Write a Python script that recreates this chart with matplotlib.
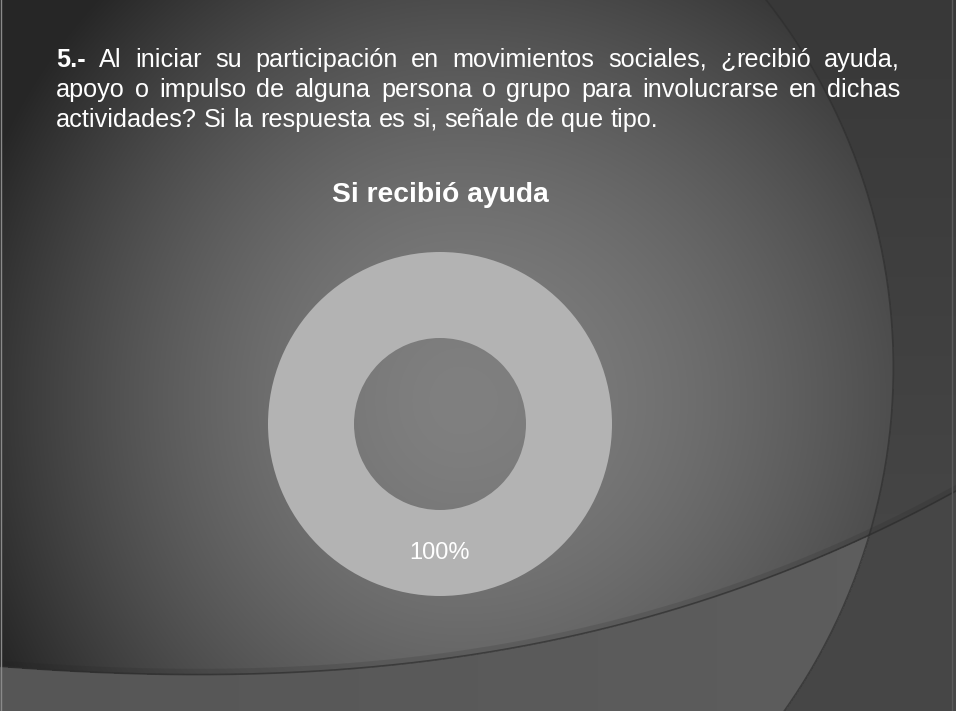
import numpy as np
import matplotlib
matplotlib.use('Agg')
import matplotlib.pyplot as plt

# datos del grafico
categorias = ['Si recibió ayuda']
valores = [1]
titulo_grafico = 'Si recibió ayuda'
pregunta_num = '5.-'
pregunta_lineas = [
    'Al iniciar su participación en movimientos sociales, ¿recibió ayuda,',
    'apoyo o impulso de alguna persona o grupo para involucrarse en dichas',
    'actividades? Si la respuesta es si, señale de que tipo.',
]

# geometria del fondo (decoracion de la diapositiva)
arco1_x = np.array([767, 880, 885, 874, 783])
arco1_y = np.array([0, 250, 460, 530, 711])
arco2_x = np.array([0, 160, 333, 476, 676, 873, 956])
arco2_y = np.array([667, 673, 670, 655, 610, 530, 493])

W, H = 956, 711
fuente = 'Liberation Sans'


def ajustar_circulo(x, y):
    A = np.column_stack([x, y, np.ones_like(x)])
    b = -(x ** 2 + y ** 2)
    D, E, F = np.linalg.lstsq(A, b, rcond=None)[0]
    cx, cy = -D / 2, -E / 2
    return cx, cy, np.sqrt(cx ** 2 + cy ** 2 - F)


cx1, cy1, r1 = ajustar_circulo(arco1_x.astype(float), arco1_y.astype(float))
poli2 = np.polyfit(arco2_x, arco2_y, 3)

# Fondo
yy, xx = np.mgrid[0:H, 0:W].astype(float)
dx = xx - 460
dx = np.where(dx < 0, dx * 1.2, dx)
dy = (yy - 400) * 1.1
d = np.hypot(dx, dy)
fondo = 128 - 48 * (d / 420) ** 1.6
fondo = np.clip(fondo, 38, 255)

derecha = np.hypot(xx - cx1, yy - cy1) > r1
abajo = yy > np.polyval(poli2, xx)

fondo[derecha & ~abajo] = 56 + 18 * (yy[derecha & ~abajo] / H)
fondo[abajo & ~derecha] = 86 + 8 * (xx[abajo & ~derecha] / W)
fondo[abajo & derecha] = 70

img = np.dstack([fondo, fondo, fondo]) / 255.0

fig = plt.figure(figsize=(W / 100, H / 100), dpi=100)
ax_bg = fig.add_axes([0, 0, 1, 1])
ax_bg.imshow(img, extent=[0, W, H, 0], interpolation='bilinear')
ax_bg.set_xlim(0, W)
ax_bg.set_ylim(H, 0)
ax_bg.axis('off')

# arcos
t = np.linspace(-np.pi / 2, np.pi / 2, 400)
ax_bg.plot(cx1 + r1 * np.cos(t), cy1 + r1 * np.sin(t), color='#2e2e2e', lw=1.2, alpha=0.7)
xs = np.linspace(0, W, 400)
ax_bg.plot(xs, np.polyval(poli2, xs), color='#2e2e2e', lw=1.2, alpha=0.7)
ax_bg.plot(xs, np.polyval(poli2, xs) - 3, color='#202020', lw=4, alpha=0.15)

# borde
ax_bg.plot([1, 1], [0, H], color='#8a8a8a', lw=1)
ax_bg.plot([W - 4, W - 4], [0, H], color='#5a5a5a', lw=1)

# Texto de la pregunta (justificado)
renderer = fig.canvas.get_renderer()
izq, der = 56, 900
bases = [67, 97, 127]
tam = 18.2


def ancho(txt, peso):
    t_ = ax_bg.text(0, 0, txt, fontsize=tam, family=fuente, weight=peso)
    w = t_.get_window_extent(renderer).width
    t_.remove()
    return w


def escribir(x, y, txt, peso):
    # el signo ¿ se escribe aparte para que no se mueva la linea base
    if txt.startswith('¿'):
        ax_bg.text(x, y, '¿', fontsize=tam, family=fuente, weight=peso,
                   color='white', va='baseline', ha='left')
        x += ancho('¿', peso)
        txt = txt[1:]
    ax_bg.text(x, y, txt, fontsize=tam, family=fuente, weight=peso,
               color='white', va='baseline', ha='left')


for i, linea in enumerate(pregunta_lineas):
    palabras = [(p, 'normal') for p in linea.split(' ')]
    if i == 0:
        palabras = [(pregunta_num, 'bold')] + palabras
    anchos = [ancho(p, w) for p, w in palabras]
    if i < len(pregunta_lineas) - 1:
        hueco = (der - izq - sum(anchos)) / (len(palabras) - 1)
    else:
        hueco = ancho('a b', 'normal') - ancho('ab', 'normal')
    x = izq
    for (p, w), a in zip(palabras, anchos):
        escribir(x, bases[i], p, w)
        x += a + hueco

# Titulo del grafico
ax_bg.text(440, 202, titulo_grafico, fontsize=20.3, family=fuente, weight='bold',
           color='white', va='baseline', ha='center')

# Dona
cx, cy, r = 440, 424, 172
ax = fig.add_axes([(cx - r) / W, (H - cy - r) / H, 2 * r / W, 2 * r / H])
wedges, textos, pct = ax.pie(valores, labels=None, colors=['#b3b3b3'], startangle=90,
                             counterclock=False, wedgeprops=dict(width=0.5, linewidth=0),
                             autopct='%1.0f%%', pctdistance=0.75,
                             textprops=dict(color='white', fontsize=17, family=fuente))
for p in pct:
    p.set_va('center')
ax.set_xlim(-1, 1)
ax.set_ylim(-1, 1)
ax.set_aspect('equal')
ax.patch.set_alpha(0)
ax.axis('off')

fig.savefig('out.png', dpi=100)
